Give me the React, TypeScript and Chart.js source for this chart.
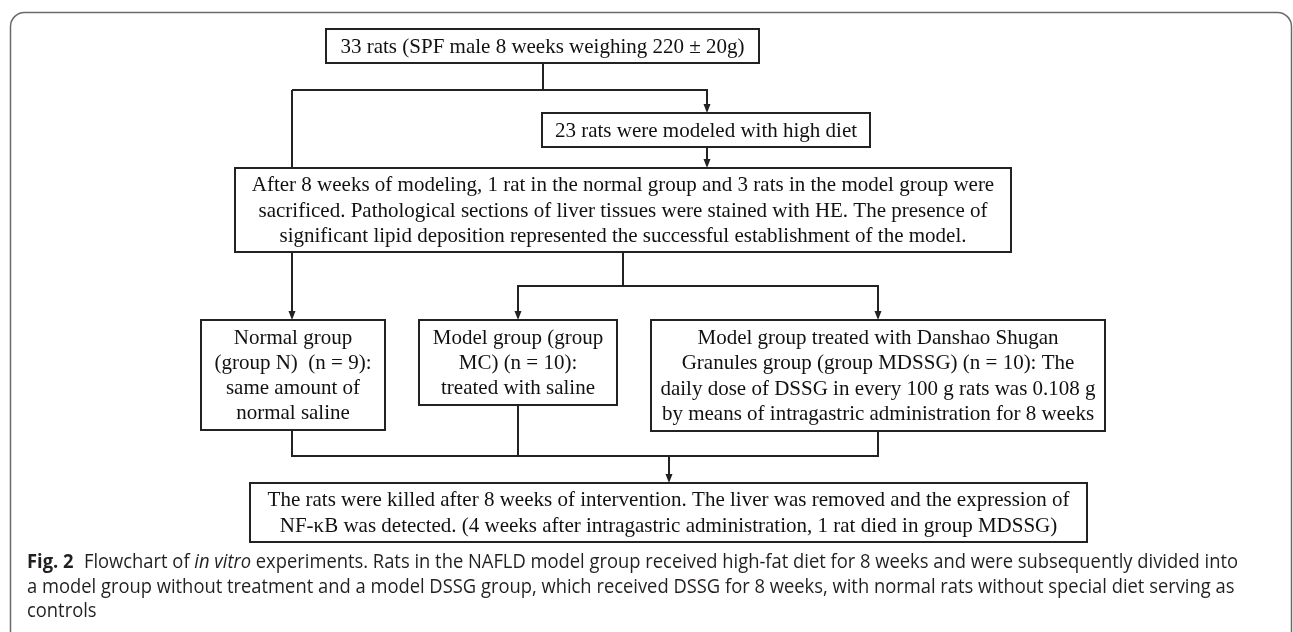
import React, { useEffect, useRef } from "react";
import { Chart, registerables } from "chart.js";

Chart.register(...registerables);

// ---- content ----
const boxTexts: string[][] = [
  ["33 rats (SPF male 8 weeks weighing 220 \u00B1 20g)"],
  ["23 rats were modeled with high diet"],
  [
    "After 8 weeks of modeling, 1 rat in the normal group and 3 rats in the model group were",
    "sacrificed. Pathological sections of liver tissues were stained with HE. The presence of",
    "significant lipid deposition represented the successful establishment of the model.",
  ],
  ["Normal group", "(group N)  (n = 9):", "same amount of", "normal saline"],
  ["Model group (group", "MC) (n = 10):", "treated with saline"],
  [
    "Model group treated with Danshao Shugan",
    "Granules group (group MDSSG) (n = 10): The",
    "daily dose of DSSG in every 100 g rats was 0.108 g",
    "by means of intragastric administration for 8 weeks",
  ],
  [
    "The rats were killed after 8 weeks of intervention. The liver was removed and the expression of",
    "NF-\u03BAB was detected. (4 weeks after intragastric administration, 1 rat died in group MDSSG)",
  ],
];

const captionLabel = "Fig. 2";
const captionLine1: [string, boolean][] = [
  ["Flowchart of ", false],
  ["in vitro", true],
  [
    " experiments. Rats in the NAFLD model group received high-fat diet for 8 weeks and were subsequently divided into",
    false,
  ],
];
const captionLine2 =
  "a model group without treatment and a model DSSG group, which received DSSG for 8 weeks, with normal rats without special diet serving as";
const captionLine3 = "controls";

// ---- layout (page coordinates) ----
const boxRects: [number, number, number, number][] = [
  [326, 29, 759, 63],
  [542, 113, 870, 147],
  [235, 168, 1011, 252],
  [201, 320, 385, 430],
  [419, 320, 617, 405],
  [651, 320, 1105, 431],
  [250, 483, 1087, 542],
];

// polylines: points + whether it ends with an arrow
const connectors: { pts: [number, number][]; arrow: boolean }[] = [
  { pts: [[543, 63], [543, 90]], arrow: false },
  { pts: [[292, 90], [707, 90], [707, 113]], arrow: true },
  { pts: [[292, 90], [292, 168]], arrow: false },
  { pts: [[707, 147], [707, 168]], arrow: true },
  { pts: [[292, 252], [292, 320]], arrow: true },
  { pts: [[623, 252], [623, 286]], arrow: false },
  { pts: [[623, 286], [518, 286], [518, 320]], arrow: true },
  { pts: [[623, 286], [878, 286], [878, 320]], arrow: true },
  { pts: [[292, 430], [292, 456], [878, 456], [878, 431]], arrow: false },
  { pts: [[518, 405], [518, 456]], arrow: false },
  { pts: [[669, 456], [669, 483]], arrow: true },
];

const W = 1293;
const H = 632;

export default function App() {
  const ref = useRef<HTMLCanvasElement | null>(null);

  useEffect(() => {
    const canvas = ref.current;
    if (!canvas) return;

    const flowPlugin = {
      id: "flowchart",
      beforeDraw(chart: any) {
        const ctx = chart.ctx as CanvasRenderingContext2D;
        ctx.save();
        ctx.fillStyle = "#ffffff";
        ctx.fillRect(0, 0, chart.width, chart.height);
        ctx.restore();
      },
      afterDraw(chart: any) {
        const ctx = chart.ctx as CanvasRenderingContext2D;
        const xs = chart.scales.x;
        const ys = chart.scales.y;
        const X = (v: number) => xs.getPixelForValue(v);
        const Y = (v: number) => ys.getPixelForValue(v);

        ctx.save();
        // outer frame
        ctx.strokeStyle = "#6a6a6a";
        ctx.lineWidth = 1.5;
        ctx.beginPath();
        const fx0 = X(10.5), fy0 = Y(12.5), fx1 = X(1291.5), fy1 = Y(700);
        const r = 14;
        ctx.moveTo(fx0, fy1);
        ctx.lineTo(fx0, fy0 + r);
        ctx.arcTo(fx0, fy0, fx0 + r, fy0, r);
        ctx.lineTo(fx1 - r, fy0);
        ctx.arcTo(fx1, fy0, fx1, fy0 + r, r);
        ctx.lineTo(fx1, fy1);
        ctx.stroke();

        // connectors
        ctx.strokeStyle = "#222222";
        ctx.fillStyle = "#222222";
        ctx.lineWidth = 2;
        ctx.lineCap = "butt";
        ctx.lineJoin = "miter";
        connectors.forEach((c) => {
          const pts = c.pts.map(([a, b]) => [X(a), Y(b)] as [number, number]);
          const last = pts[pts.length - 1];
          const prev = pts[pts.length - 2];
          const al = 9;
          ctx.beginPath();
          pts.forEach(([px, py], i) => {
            let qx = px, qy = py;
            if (c.arrow && i === pts.length - 1) {
              const dx = last[0] - prev[0], dy = last[1] - prev[1];
              const len = Math.hypot(dx, dy) || 1;
              qx = px - (dx / len) * (al - 1);
              qy = py - (dy / len) * (al - 1);
            }
            if (i === 0) ctx.moveTo(qx, qy);
            else ctx.lineTo(qx, qy);
          });
          ctx.stroke();
          if (c.arrow) {
            const dx = last[0] - prev[0], dy = last[1] - prev[1];
            const len = Math.hypot(dx, dy) || 1;
            const ux = dx / len, uy = dy / len;
            const hw = 3.5;
            ctx.beginPath();
            ctx.moveTo(last[0], last[1]);
            ctx.lineTo(last[0] - ux * al - uy * hw, last[1] - uy * al + ux * hw);
            ctx.lineTo(last[0] - ux * al + uy * hw, last[1] - uy * al - ux * hw);
            ctx.closePath();
            ctx.fill();
          }
        });

        // boxes
        boxRects.forEach(([a, b, c, d], i) => {
          const x0 = X(a), y0 = Y(b), x1 = X(c), y1 = Y(d);
          ctx.fillStyle = "#ffffff";
          ctx.fillRect(x0, y0, x1 - x0, y1 - y0);
          ctx.strokeStyle = "#222222";
          ctx.lineWidth = 2;
          ctx.strokeRect(x0, y0, x1 - x0, y1 - y0);
          const lines = boxTexts[i];
          const lh = 25.2;
          const cx = (x0 + x1) / 2;
          const cy = (y0 + y1) / 2 + 1;
          ctx.fillStyle = "#111111";
          ctx.font = '21px "Liberation Serif", "Times New Roman", serif';
          ctx.textAlign = "center";
          ctx.textBaseline = "middle";
          lines.forEach((t, k) => {
            ctx.fillText(t, cx, cy + (k - (lines.length - 1) / 2) * lh);
          });
        });

        // caption
        const fs = 19.5;
        const fam = '"Open Sans", "Noto Sans", sans-serif';
        const reg = `400 ${fs}px ${fam}`;
        const ital = `italic 400 ${fs}px ${fam}`;
        const bold = `bold ${fs}px ${fam}`;
        ctx.textAlign = "left";
        ctx.textBaseline = "alphabetic";
        ctx.fillStyle = "#231f20";
        ctx.font = bold;
        const labW = ctx.measureText(captionLabel).width;
        const gap = 11;
        let total = labW + gap;
        captionLine1.forEach(([t, it]) => {
          ctx.font = it ? ital : reg;
          total += ctx.measureText(t).width;
        });
        const targetW = 1211;
        const sx = targetW / total;
        const left = X(27);
        const drawLine = (segs: [string, string][], yb: number) => {
          ctx.save();
          ctx.translate(left, Y(yb));
          ctx.scale(sx, 1);
          let cur = 0;
          segs.forEach(([t, f]) => {
            ctx.font = f;
            ctx.fillText(t, cur, 0);
            cur += ctx.measureText(t).width;
            if (t === captionLabel) cur += gap;
          });
          ctx.restore();
        };
        drawLine(
          [[captionLabel, bold], ...captionLine1.map(([t, it]) => [t, it ? ital : reg] as [string, string])],
          568
        );
        drawLine([[captionLine2, reg]], 592.5);
        drawLine([[captionLine3, reg]], 617);
        ctx.restore();
      },
    };

    const chart = new Chart(canvas, {
      type: "scatter",
      data: {
        datasets: [
          {
            label: "boxes",
            data: boxRects.map(([a, b, c, d]) => ({ x: (a + c) / 2, y: (b + d) / 2 })),
            pointRadius: 0,
            showLine: false,
          },
        ],
      },
      options: {
        responsive: false,
        maintainAspectRatio: false,
        animation: false,
        devicePixelRatio: 1,
        layout: { padding: 0 },
        events: [],
        scales: {
          x: { type: "linear", min: 0, max: W, display: false },
          y: { type: "linear", min: 0, max: H, reverse: true, display: false },
        },
        plugins: { legend: { display: false }, tooltip: { enabled: false } },
      },
      plugins: [flowPlugin],
    });

    return () => chart.destroy();
  }, []);

  return (
    <div
      style={{
        position: "fixed",
        left: 0,
        top: 0,
        width: W,
        height: H,
        background: "#ffffff",
        overflow: "hidden",
      }}
    >
      <canvas ref={ref} width={W} height={H} style={{ display: "block", width: W, height: H }} />
    </div>
  );
}
